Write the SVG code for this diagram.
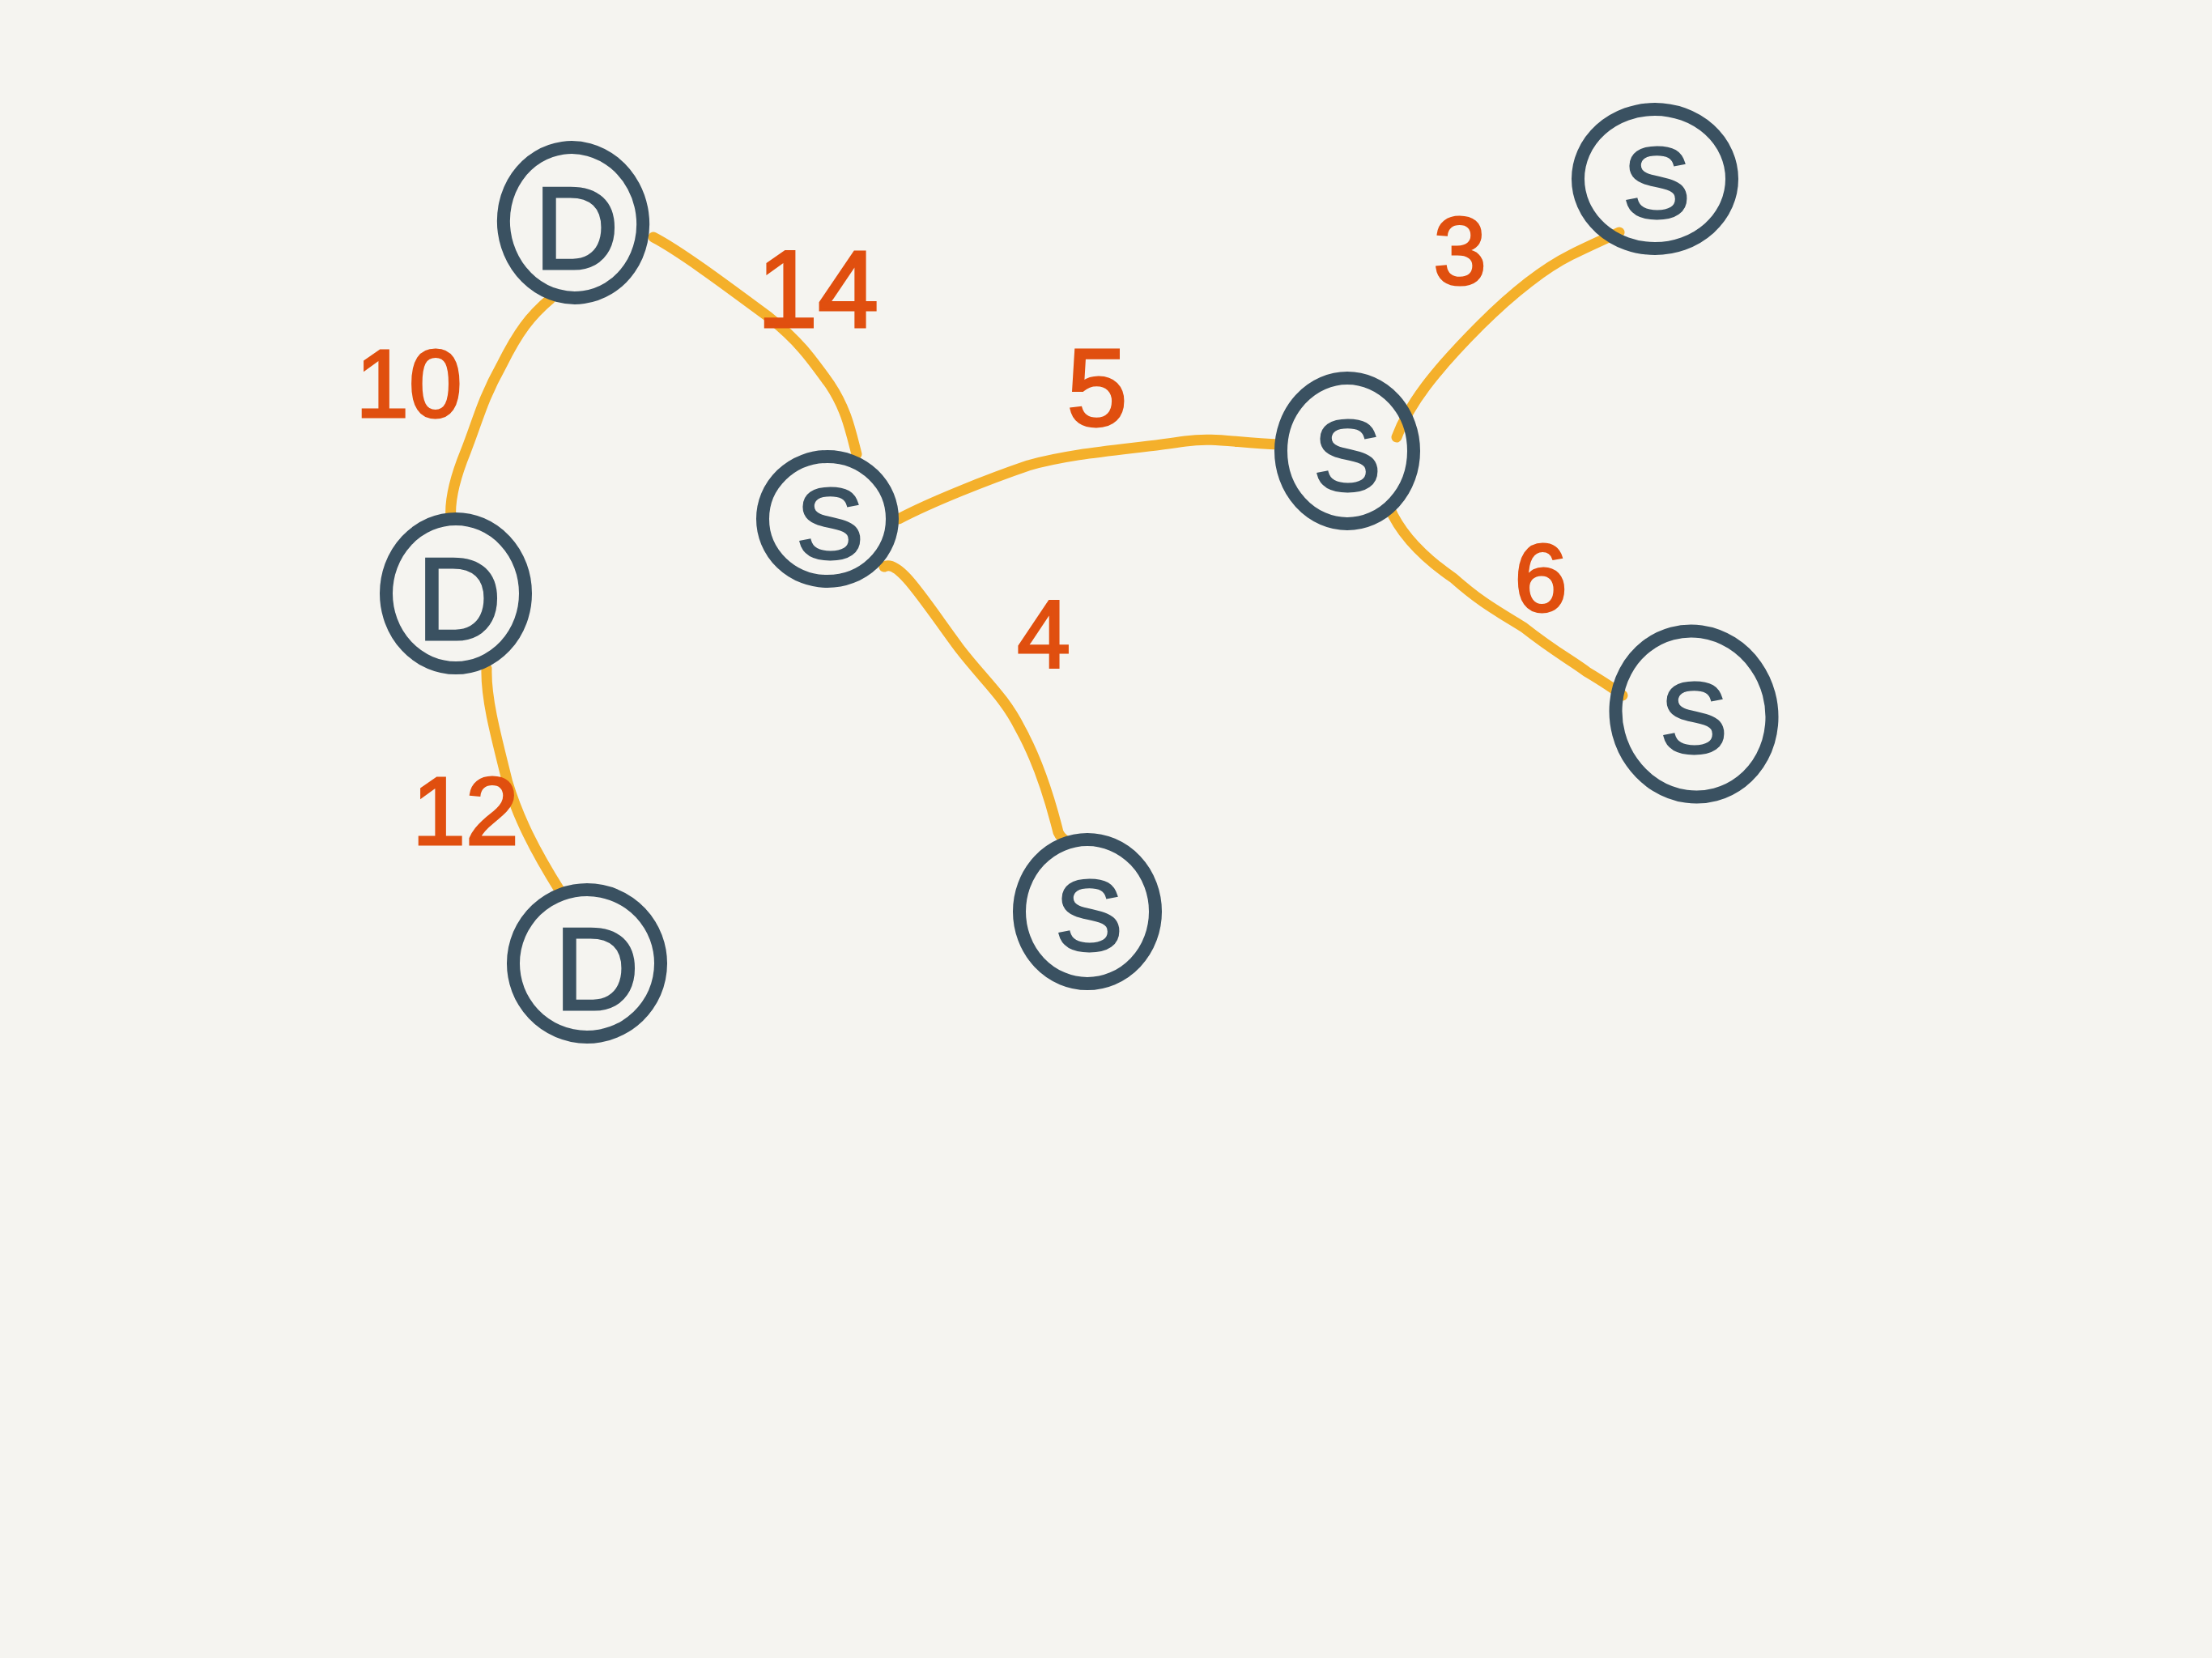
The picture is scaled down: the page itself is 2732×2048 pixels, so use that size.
<svg xmlns="http://www.w3.org/2000/svg" width="2732" height="2048" viewBox="0 0 2732 2048">
<style>
.edge{fill:none;stroke:#f4b02b;stroke-width:13;stroke-linecap:round;stroke-linejoin:round}
.node{fill:none;stroke:#3a5161;stroke-width:16;stroke-linecap:round}
.lbl{font-family:"Liberation Sans",Arial,sans-serif;font-size:125px;fill:#3a5161;stroke:#3a5161;stroke-width:3;text-anchor:middle;dominant-baseline:central}
.lbd{font-size:145px}
.w{font-family:"Liberation Sans",Arial,sans-serif;font-size:118px;fill:#e04f0f;stroke:#e04f0f;stroke-width:3;text-anchor:middle;dominant-baseline:central}
.wb{font-size:135px}
</style>
<rect width="2732" height="2048" fill="#f5f4f0"/>
<g id="connectors">
<path class="edge" d="M680,369 C655,390 640,410 620,450 C595,495 590,520 575,558 C562,590 555,620 557,641"/>
<path class="edge" d="M807,293 C840,310 900,355 950,392 C985,420 1000,440 1025,475 C1045,505 1050,530 1058,561"/>
<path class="edge" d="M601,826 C600,860 610,900 627,967 C640,1010 660,1050 692,1101"/>
<path class="edge" d="M1092,700 C1110,690 1140,740 1185,801 C1215,840 1240,860 1260,900 C1285,945 1300,1000 1307,1028 C1310,1035 1315,1038 1319,1040"/>
<path class="edge" d="M1110,641 C1150,620 1220,592 1270,575 C1330,558 1400,555 1464,545 C1500,540 1525,547 1580,549"/>
<path class="edge" d="M1725,540 C1740,500 1770,460 1829,401 C1870,360 1910,330 1940,315 C1960,305 1980,296 2000,287"/>
<path class="edge" d="M1716,627 C1730,660 1760,690 1795,714 C1830,745 1850,755 1882,775 C1920,805 1940,815 1960,830 C1985,845 1995,852 2004,859"/>
</g>
<g id="edge-labels">
<text class="w" x="505" y="474">10</text>
<text class="w wb" x="1010" y="357">14</text>
<text class="w wb" x="1355" y="479">5</text>
<text class="w" x="1803" y="310">3</text>
<text class="w" x="1903" y="714">6</text>
<text class="w" x="1289" y="784">4</text>
<text class="w" x="575" y="1002">12</text>
</g>
<g id="node-A"><ellipse class="node" cx="708" cy="275" rx="86" ry="93" transform="rotate(-8 708 275)"/><text class="lbl lbd" x="712" y="282">D</text></g>
<g id="node-B"><ellipse class="node" cx="563" cy="733" rx="86" ry="92"/><text class="lbl lbd" x="567" y="740">D</text></g>
<g id="node-C"><ellipse class="node" cx="725" cy="1190" rx="91" ry="91" transform="rotate(-10 725 1190)"/><text class="lbl lbd" x="737" y="1197">D</text></g>
<g id="node-D"><ellipse class="node" cx="1022" cy="641" rx="80" ry="77"/><text class="lbl" x="1025" y="646">S</text></g>
<g id="node-E"><ellipse class="node" cx="1343" cy="1126" rx="84" ry="89"/><text class="lbl" x="1345" y="1130">S</text></g>
<g id="node-F"><ellipse class="node" cx="1664" cy="557" rx="82" ry="90"/><text class="lbl" x="1664" y="562">S</text></g>
<g id="node-G"><ellipse class="node" cx="2044" cy="221" rx="95" ry="86"/><text class="lbl" x="2046" y="225">S</text></g>
<g id="node-H"><ellipse class="node" cx="2092" cy="882" rx="96" ry="103" transform="rotate(-15 2092 882)"/><text class="lbl" x="2092" y="886">S</text></g>
</svg>
